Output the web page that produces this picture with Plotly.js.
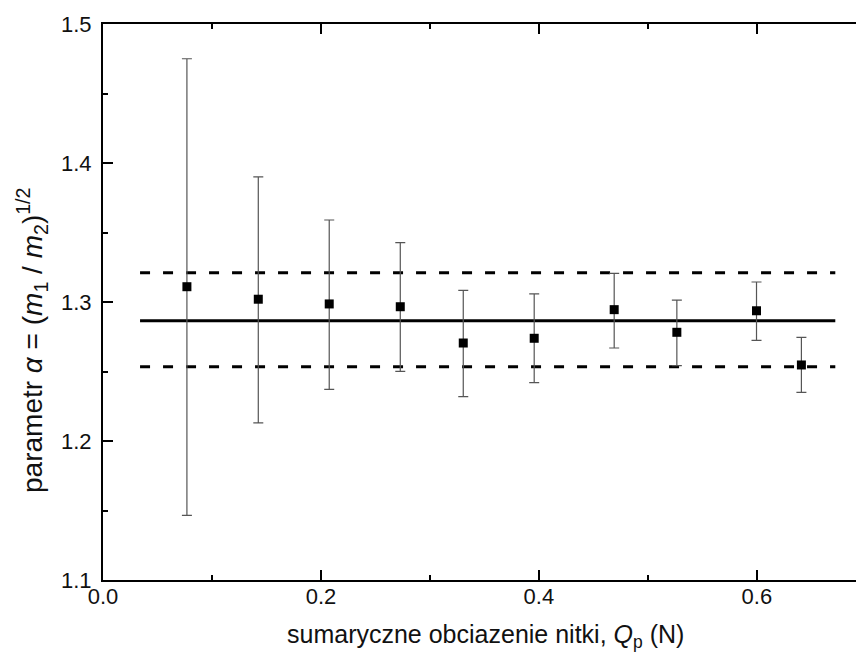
<!DOCTYPE html>
<html>
<head>
<meta charset="utf-8">
<script src="https://cdn.plot.ly/plotly-3.0.1.min.js"></script>
<style>html,body{margin:0;padding:0;background:#fff;}#chart{width:856px;height:654px;}</style>
</head>
<body>
<div id="chart"></div>
<script>
// Data
var loadQ = [0.077, 0.1425, 0.2076, 0.2728, 0.3306, 0.3957, 0.4691, 0.5266, 0.5997, 0.6409];
var alphaVal = [1.311, 1.302, 1.2986, 1.2966, 1.2705, 1.2739, 1.2945, 1.2782, 1.2937, 1.2547];
var errTop = [1.475, 1.390, 1.359, 1.3427, 1.3084, 1.3058, 1.3206, 1.3014, 1.3144, 1.2746];
var errBottom = [1.1465, 1.213, 1.2372, 1.2501, 1.2319, 1.2420, 1.2669, 1.2542, 1.2724, 1.2350];
var lineX = [0.034, 0.672];
var meanAlpha = 1.2866;
var upperAlpha = 1.3211;
var lowerAlpha = 1.2535;
var xTitle = 'sumaryczne obciazenie nitki, <i>Q</i><sub>p</sub> (N)';
var yTitle = 'parametr <i>α</i> = (<i>m</i><sub>1</sub> / <i>m</i><sub>2</sub>)<sup>1/2</sup>';

var errPlus = alphaVal.map(function(v, i){ return errTop[i] - v; });
var errMinus = alphaVal.map(function(v, i){ return v - errBottom[i]; });

var traces = [
  {x: lineX, y: [meanAlpha, meanAlpha], mode: 'lines', line: {color: '#000', width: 3}, hoverinfo: 'skip', showlegend: false},
  {x: lineX, y: [upperAlpha, upperAlpha], mode: 'lines', line: {color: '#000', width: 3, dash: '10px,13px'}, hoverinfo: 'skip', showlegend: false},
  {x: lineX, y: [lowerAlpha, lowerAlpha], mode: 'lines', line: {color: '#000', width: 3, dash: '10px,13px'}, hoverinfo: 'skip', showlegend: false},
  {x: loadQ, y: alphaVal, mode: 'markers', type: 'scatter',
   marker: {symbol: 'square', size: 9, color: '#000'},
   error_y: {type: 'data', symmetric: false, array: errPlus, arrayminus: errMinus, color: '#555', thickness: 1.2, width: 5},
   showlegend: false}
];

var fontFam = 'Liberation Sans, Arial, sans-serif';
var layout = {
  width: 856, height: 654,
  margin: {l: 103, r: 0, t: 24, b: 74},
  paper_bgcolor: '#fff', plot_bgcolor: '#fff',
  font: {family: fontFam, color: '#111', size: 22},
  xaxis: {
    range: [0, 0.691], tick0: 0, dtick: 0.2, tickformat: '.1f',
    ticks: 'inside', ticklen: 10, tickwidth: 2, tickcolor: '#000',
    minor: {dtick: 0.1, ticks: 'inside', ticklen: 5, tickwidth: 2, tickcolor: '#000'},
    showline: true, linecolor: '#000', linewidth: 2, mirror: 'ticks',
    showgrid: false, zeroline: false,
    tickfont: {size: 22, family: fontFam, color: '#111'},
    ticklabelstandoff: -4,
    automargin: false
  },
  yaxis: {
    range: [1.1, 1.5], tick0: 1.1, dtick: 0.1, tickformat: '.1f',
    ticks: 'inside', ticklen: 10, tickwidth: 2, tickcolor: '#000',
    minor: {dtick: 0.05, ticks: 'inside', ticklen: 5, tickwidth: 2, tickcolor: '#000'},
    showline: true, linecolor: '#000', linewidth: 2, mirror: false,
    showgrid: false, zeroline: false,
    tickfont: {size: 22, family: fontFam, color: '#111'},
    ticklabelstandoff: 5,
    automargin: false
  },
  annotations: [
    {text: xTitle, xref: 'paper', yref: 'paper', x: 0.5086, y: -0.1007, xanchor: 'center', yanchor: 'middle',
     showarrow: false, font: {size: 25, family: fontFam, color: '#111'}},
    {text: yTitle, xref: 'paper', yref: 'paper', x: -0.0943, y: 0.4317, xanchor: 'center', yanchor: 'middle',
     textangle: -90, showarrow: false, font: {size: 28, family: fontFam, color: '#111'}}
  ]
};

Plotly.newPlot('chart', traces, layout, {displayModeBar: false, staticPlot: true});
</script>
</body>
</html>
